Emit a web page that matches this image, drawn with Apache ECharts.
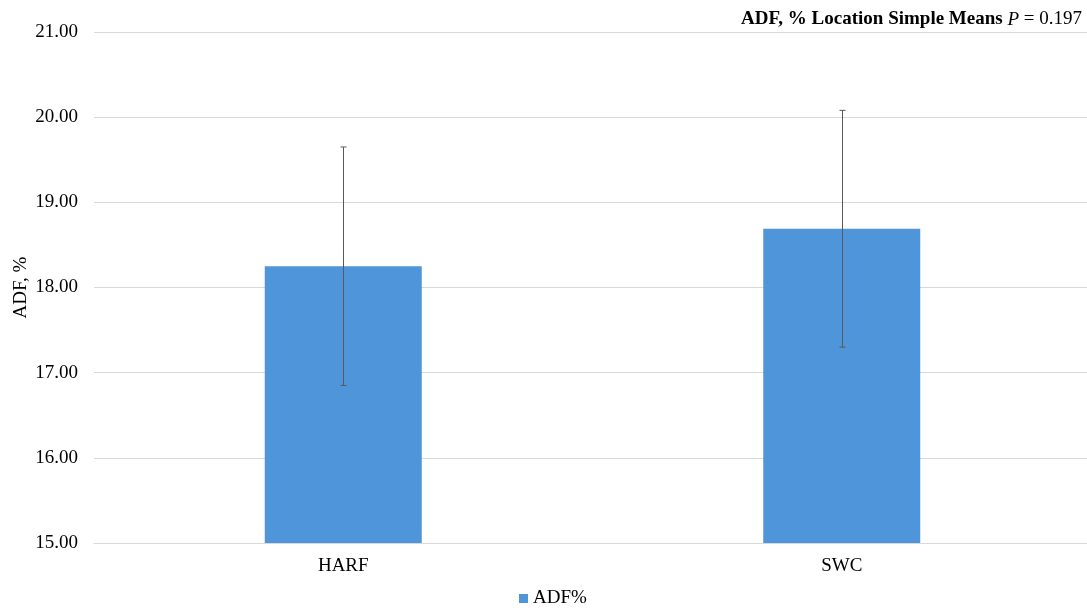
<!DOCTYPE html>
<html>
<head>
<meta charset="utf-8">
<script src="https://cdn.jsdelivr.net/npm/echarts@6/dist/echarts.min.js"></script>
<style>html,body{margin:0;padding:0;background:#fff;}#c{width:1087px;height:610px;}</style>
</head>
<body>
<div id="c"></div>
<script>
var categories = ['HARF', 'SWC'];
var means = [18.25, 18.69];
var errors = [1.40, 1.39];
var seriesName = 'ADF%';
var yTicks = [15, 16, 17, 18, 19, 20, 21];

var FONT = '"Liberation Serif", "Times New Roman", serif';
var chart = echarts.init(document.getElementById('c'), null, {renderer: 'canvas'});
var errData = categories.map(function (c, i) { return [i, means[i] - errors[i], means[i] + errors[i]]; });

chart.setOption({
  animation: false,
  textStyle: {fontFamily: FONT},
  title: {
    right: 0, top: 5,
    text: '{b|ADF, % Location Simple Means }{i|P}{n| = 0.197}',
    textStyle: {
      fontWeight: 'normal',
      rich: {
        b: {fontFamily: FONT, fontWeight: 'bold', fontSize: 19, color: '#000'},
        i: {fontFamily: FONT, fontStyle: 'italic', fontWeight: 'normal', fontSize: 19, color: '#000'},
        n: {fontFamily: FONT, fontWeight: 'normal', fontSize: 19, color: '#000'}
      }
    }
  },
  legend: {
    bottom: -3, left: 514,
    itemWidth: 9, itemHeight: 9, icon: 'rect', itemGap: 6,
    textStyle: {fontFamily: FONT, fontSize: 19, color: '#000'},
    data: [seriesName]
  },
  grid: {left: 94, right: -4, top: 32, bottom: 67, containLabel: false, outerBoundsMode: 'none'},
  xAxis: {
    type: 'category', data: categories,
    axisLine: {lineStyle: {color: '#d9d9d9', width: 1}},
    axisTick: {show: false},
    axisLabel: {fontFamily: FONT, fontSize: 19, color: '#000', margin: 14}
  },
  yAxis: {
    type: 'value', min: yTicks[0], max: yTicks[yTicks.length - 1], interval: 1,
    name: 'ADF, %', nameLocation: 'middle', nameGap: 63, nameMoveOverlap: false,
    nameTextStyle: {fontFamily: FONT, fontSize: 19, color: '#000'},
    axisLine: {show: false}, axisTick: {show: false},
    axisLabel: {fontFamily: FONT, fontSize: 19, color: '#000', margin: 16,
      formatter: function (v) { return v.toFixed(2); }},
    splitLine: {lineStyle: {color: '#d9d9d9', width: 1}}
  },
  series: [
    {
      name: seriesName, type: 'bar', data: means, barWidth: 157,
      itemStyle: {color: '#4f95d9'}
    },
    {
      type: 'custom', name: 'err', data: errData, z: 10,
      renderItem: function (params, api) {
        var x = api.value(0);
        var lo = api.coord([x, api.value(1)]);
        var hi = api.coord([x, api.value(2)]);
        var cx = Math.round(lo[0]) + 0.5;
        var w = 3;
        var st = {stroke: '#595959', lineWidth: 1};
        return {
          type: 'group',
          children: [
            {type: 'line', shape: {x1: cx, y1: hi[1], x2: cx, y2: lo[1]}, style: st},
            {type: 'line', shape: {x1: cx - w, y1: hi[1], x2: cx + w, y2: hi[1]}, style: st},
            {type: 'line', shape: {x1: cx - w, y1: lo[1], x2: cx + w, y2: lo[1]}, style: st}
          ]
        };
      }
    }
  ]
});
</script>
</body>
</html>
